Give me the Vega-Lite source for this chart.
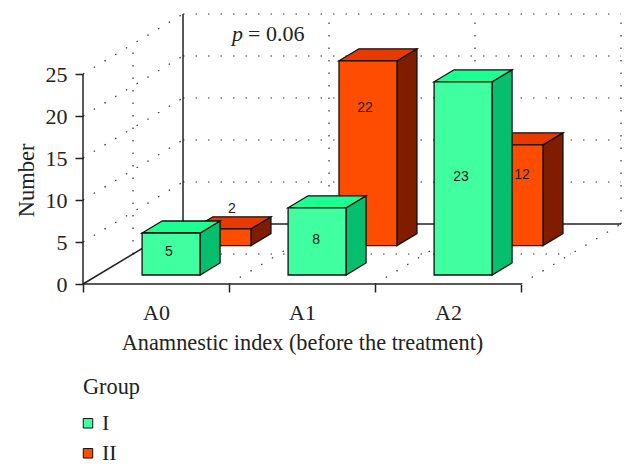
{
"$schema":"https://vega.github.io/schema/vega-lite/v6.json",
"width":540,"height":270,
"autosize":{"type":"none"},
"padding":{"left":83,"top":14,"right":13,"bottom":186},
"background":"white",
"config":{"view":{"stroke":null},"font":"Liberation Serif"},
"datasets":{
"bars":[
{"category":"A0","group":"I","value":5},
{"category":"A0","group":"II","value":2},
{"category":"A1","group":"I","value":8},
{"category":"A1","group":"II","value":22},
{"category":"A2","group":"I","value":23},
{"category":"A2","group":"II","value":12}
],
"solidFrame":[
{"i1":0,"l1":0,"d1":0,"i2":0,"l2":25,"d2":0},
{"i1":0,"l1":0,"d1":0,"i2":3,"l2":0,"d2":0},
{"i1":0,"l1":0,"d1":0,"i2":0,"l2":0,"d2":1},
{"i1":0,"l1":0,"d1":1,"i2":0,"l2":25,"d2":1},
{"i1":0,"l1":0,"d1":1,"i2":3,"l2":0,"d2":1}
],
"dottedGrid":[
{"i1":0,"l1":5,"d1":1,"i2":3,"l2":5,"d2":1},
{"i1":0,"l1":10,"d1":1,"i2":3,"l2":10,"d2":1},
{"i1":0,"l1":15,"d1":1,"i2":3,"l2":15,"d2":1},
{"i1":0,"l1":20,"d1":1,"i2":3,"l2":20,"d2":1},
{"i1":0,"l1":25,"d1":1,"i2":3,"l2":25,"d2":1},
{"i1":0,"l1":5,"d1":0,"i2":0,"l2":5,"d2":1},
{"i1":0,"l1":10,"d1":0,"i2":0,"l2":10,"d2":1},
{"i1":0,"l1":15,"d1":0,"i2":0,"l2":15,"d2":1},
{"i1":0,"l1":20,"d1":0,"i2":0,"l2":20,"d2":1},
{"i1":0,"l1":25,"d1":0,"i2":0,"l2":25,"d2":1},
{"i1":1,"l1":0,"d1":1,"i2":1,"l2":25,"d2":1},
{"i1":2,"l1":0,"d1":1,"i2":2,"l2":25,"d2":1},
{"i1":3,"l1":0,"d1":1,"i2":3,"l2":25,"d2":1},
{"i1":0,"l1":0,"d1":0.5,"i2":0,"l2":25,"d2":0.5},
{"i1":1,"l1":0,"d1":0,"i2":1,"l2":0,"d2":1},
{"i1":2,"l1":0,"d1":0,"i2":2,"l2":0,"d2":1},
{"i1":3,"l1":0,"d1":0,"i2":3,"l2":0,"d2":1},
{"i1":0,"l1":0,"d1":0.5,"i2":3,"l2":0,"d2":0.5}
]
},
"encoding":{
"x":{"field":"px","type":"quantitative","scale":{"domain":[0,3.6986],"nice":false,"zero":false},
"axis":{"title":"Anamnestic index (before the treatment)","titleFont":"Liberation Serif","titleFontSize":22.3,"titleFontWeight":"normal","titleColor":"#222","titleX":219,"titleY":65,"titleBaseline":"alphabetic","titleAnchor":null,"titleAlign":"center",
"values":[0,0.5,1,1.5,2,2.5,3],"domain":false,"grid":false,"tickSize":8,"tickWidth":1.5,"tickColor":"#222",
"tickOpacity":{"condition":{"test":"datum.value%1==0","value":1},"value":0},
"labelExpr":"datum.value==0.5?'A0':datum.value==1.5?'A1':datum.value==2.5?'A2':''",
"labelFont":"Liberation Serif","labelFontSize":22,"labelColor":"#222","labelPadding":10,"labelOverlap":false,"labelFlush":false}},
"y":{"field":"py","type":"quantitative","scale":{"domain":[0,32.143],"nice":false,"zero":false},
"axis":{"title":"Number","titleFont":"Liberation Serif","titleFontSize":22.5,"titleFontWeight":"normal","titleColor":"#222","titleX":-50,"titleY":166,"titleAngle":-90,"titleAlign":"center","titleAnchor":null,"titleBaseline":"alphabetic",
"values":[0,5,10,15,20,25],"domain":false,"grid":false,"tickSize":8,"tickWidth":1.5,"tickColor":"#222",
"labelFont":"Liberation Serif","labelFontSize":22,"labelColor":"#222","labelPadding":8}}
},
"layer":[
{"data":{"name":"dottedGrid"},
"transform":[
{"calculate":"datum.i1+datum.d1*0.685","as":"px"},
{"calculate":"datum.l1+datum.d1*7.143","as":"py"},
{"calculate":"datum.i2+datum.d2*0.685","as":"px2"},
{"calculate":"datum.l2+datum.d2*7.143","as":"py2"}],
"mark":{"type":"rule","color":"#333","strokeWidth":1.2,"strokeDash":[1.5,11]},
"encoding":{"x2":{"field":"px2"},"y2":{"field":"py2"}}},
{"data":{"name":"solidFrame"},
"transform":[
{"calculate":"datum.i1+datum.d1*0.685","as":"px"},
{"calculate":"datum.l1+datum.d1*7.143","as":"py"},
{"calculate":"datum.i2+datum.d2*0.685","as":"px2"},
{"calculate":"datum.l2+datum.d2*7.143","as":"py2"}],
"mark":{"type":"rule","color":"#222","strokeWidth":1.5},
"encoding":{"x2":{"field":"px2"},"y2":{"field":"py2"}}},
{"data":{"name":"bars"},
"transform":[
{"calculate":"indexof(['A0','A1','A2'],datum.category)","as":"i"},
{"calculate":"[0,1]","as":"t"},
{"flatten":["t"]},
{"calculate":"(datum.group=='I'?0.15:0.64)+datum.t*0.2","as":"D"},
{"calculate":"datum.i+(datum.group=='I'?0.302:0.315)+datum.D*0.685","as":"xl"},
{"calculate":"datum.xl+0.397","as":"xr"},
{"calculate":"datum.value+datum.D*7.143","as":"py"},
{"calculate":"datum.D*7.143","as":"yb"}],
"layer":[
{"transform":[{"filter":"datum.group=='II'"},{"calculate":"datum.xr","as":"px"}],
"mark":{"type":"area","orient":"vertical","fill":"#801C00","stroke":"#111","strokeWidth":1.3},
"encoding":{"y2":{"field":"yb"},"detail":{"field":"category"}}},
{"transform":[{"filter":"datum.group=='II'"},{"calculate":"datum.xl","as":"px"}],
"mark":{"type":"area","orient":"horizontal","fill":"#E83A00","stroke":"#111","strokeWidth":1.3},
"encoding":{"x2":{"field":"xr"},"detail":{"field":"category"}}},
{"transform":[{"filter":"datum.group=='II' && datum.t==0"},{"calculate":"datum.xl","as":"px"}],
"mark":{"type":"rect","stroke":"#111","strokeWidth":1.3},
"encoding":{"x2":{"field":"xr"},"y2":{"field":"yb"},
"fill":{"field":"group","type":"nominal","scale":{"domain":["I","II"],"range":["#40FFA0","#FF4D00"]},
"legend":{"title":"Group","orient":"none","legendX":0,"legendY":362,"symbolType":"square","symbolSize":90,"symbolOffset":-6,"symbolStrokeColor":"#111","symbolStrokeWidth":1,"titleFont":"Liberation Serif","titleFontSize":22.3,"titleFontWeight":"normal","titleColor":"#222","titlePadding":14,"labelFont":"Liberation Serif","labelFontSize":22,"labelColor":"#222","labelOffset":3,"rowPadding":8}}}},
{"transform":[{"filter":"datum.group=='I'"},{"calculate":"datum.xr","as":"px"}],
"mark":{"type":"area","orient":"vertical","fill":"#05BF6F","stroke":"#111","strokeWidth":1.3},
"encoding":{"y2":{"field":"yb"},"detail":{"field":"category"}}},
{"transform":[{"filter":"datum.group=='I'"},{"calculate":"datum.xl","as":"px"}],
"mark":{"type":"area","orient":"horizontal","fill":"#1CFF93","stroke":"#111","strokeWidth":1.3},
"encoding":{"x2":{"field":"xr"},"detail":{"field":"category"}}},
{"transform":[{"filter":"datum.group=='I' && datum.t==0"},{"calculate":"datum.xl","as":"px"}],
"mark":{"type":"rect","stroke":"#111","strokeWidth":1.3},
"encoding":{"x2":{"field":"xr"},"y2":{"field":"yb"},
"fill":{"field":"group","type":"nominal","scale":{"domain":["I","II"],"range":["#40FFA0","#FF4D00"]},
"legend":{"title":"Group","orient":"none","legendX":0,"legendY":362,"symbolType":"square","symbolSize":90,"symbolOffset":-6,"symbolStrokeColor":"#111","symbolStrokeWidth":1,"titleFont":"Liberation Serif","titleFontSize":22.3,"titleFontWeight":"normal","titleColor":"#222","titlePadding":14,"labelFont":"Liberation Serif","labelFontSize":22,"labelColor":"#222","labelOffset":3,"rowPadding":8}}}}
]},
{"data":{"name":"bars"},
"transform":[
{"calculate":"{'A0I':0.589,'A0II':1.0205,'A1I':1.596,'A1II':1.932,'A2I':2.589,'A2II':3.007}[datum.category+datum.group]","as":"px"},
{"calculate":"{'A0I':3.81,'A0II':8.93,'A1I':5.24,'A1II':20.95,'A2I':12.74,'A2II':12.98}[datum.category+datum.group]","as":"py"}],
"mark":{"type":"text","font":"Liberation Sans","fontSize":14,"color":"#222","baseline":"middle","align":"center"},
"encoding":{"text":{"field":"value","type":"quantitative"}}},
{"data":{"values":[{"px":1.02,"py":28.93}]},
"mark":{"type":"text","font":"Liberation Serif","fontStyle":"italic","fontSize":22,"color":"#222","align":"left","baseline":"alphabetic","text":"p"},
"encoding":{}},
{"data":{"values":[{"px":1.13,"py":28.93}]},
"mark":{"type":"text","font":"Liberation Serif","fontSize":22,"color":"#222","align":"left","baseline":"alphabetic","text":"= 0.06"},
"encoding":{}}
]
}
